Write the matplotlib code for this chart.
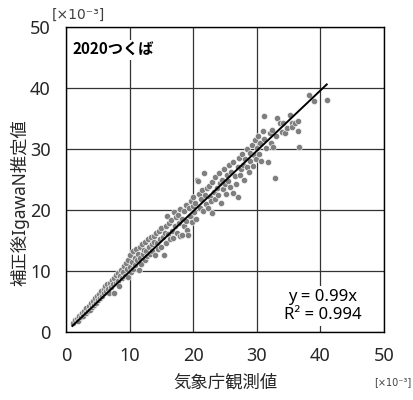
import matplotlib
matplotlib.use("Agg")
import matplotlib.pyplot as plt

plt.rcParams['font.family'] = ['Noto Sans', 'Noto Sans CJK JP', 'DejaVu Sans']

# observed (JMA) values [x10^-3]
obs = [
    1.1, 1.4, 1.7, 1.9, 2.1, 2.3, 2.5, 2.7, 2.9, 3.1, 3.2, 3.4, 3.6, 3.7, 3.9, 4.1, 4.2, 4.4, 4.6, 4.7, 4.9, 5.0,
    5.2, 5.4, 5.5, 5.7, 5.9, 6.0, 6.2, 6.3, 6.5, 6.6, 6.8, 6.9, 7.1, 7.2, 7.4, 7.5, 7.6, 7.8, 7.9, 8.1, 8.2, 8.4,
    8.5, 8.7, 8.8, 9.0, 9.1, 9.3, 9.4, 9.6, 9.7, 9.8, 10.0, 10.1, 10.2,
    10.4, 10.5, 10.6, 10.8, 10.9, 11.0, 11.2, 11.3, 11.4, 11.6, 11.7, 11.8, 12.0, 12.1, 12.2, 12.4, 12.5, 12.6,
    12.8, 12.9, 13.0, 13.2, 13.3, 13.5, 13.6, 13.8, 13.9, 14.0, 14.2, 14.3, 14.5, 14.6, 14.8, 14.9, 15.0, 15.2,
    15.4, 15.5, 15.7, 15.8, 15.9,
    16.1, 16.2, 16.4, 16.5, 16.7, 16.8, 17.0, 17.1, 17.3, 17.4, 17.6, 17.7, 17.9, 18.0, 18.2, 18.3, 18.5, 18.6,
    18.8, 18.9, 19.0, 19.2, 19.3, 19.5, 19.6, 19.8, 19.9, 20.0, 20.2, 20.3, 20.5, 20.6, 20.8, 20.9, 21.0,
    21.2, 21.4, 21.5, 21.7, 21.8, 22.0, 22.1, 22.3, 22.5, 22.6, 22.8, 23.0, 23.0, 23.2, 23.4, 23.5, 23.7, 23.9,
    24.0, 24.2, 24.3, 24.5, 24.7, 24.8, 25.0, 25.2, 25.3, 25.5, 25.6, 25.8, 26.0, 26.2, 26.3, 26.5, 26.7,
    27.0, 27.0, 27.2, 27.4, 27.5, 27.7, 27.9, 28.0, 28.2, 28.4, 28.5, 28.7, 28.9, 29.0, 29.2, 29.4, 29.5, 29.7,
    29.9, 30.0, 30.2, 30.3, 30.5, 30.7, 30.9, 31.1, 31.2, 31.4, 31.8, 32.0, 32.2, 32.4, 32.6, 32.9, 33.0,
    33.2, 33.6, 33.9, 34.1, 34.4, 34.8, 35.2, 35.5, 35.6, 36.0, 36.5, 36.5, 36.6, 38.2, 39.0, 41.0,
]
# corrected IgawaN estimates [x10^-3]
est = [
    1.4, 1.9, 2.2, 1.8, 2.6, 2.4, 3.1, 2.7, 3.5, 3.1, 3.9, 3.4, 4.2, 3.6, 4.7, 4.1, 5.1, 4.5, 5.5, 4.8, 5.9, 5.2,
    6.3, 5.6, 6.7, 5.9, 7.1, 6.4, 7.5, 6.8, 7.9, 7.0, 6.4, 8.1, 7.4, 8.6, 7.8, 6.4, 8.9, 8.0, 9.3, 8.4, 9.7, 7.6,
    9.1, 10.2, 8.8, 9.8, 10.8, 9.2, 11.3, 10.3, 9.0, 11.8, 10.6, 12.6, 9.8,
    11.4, 13.2, 10.4, 12.2, 11.0, 13.6, 11.8, 12.8, 10.2, 13.9, 12.2, 11.2, 14.4, 12.8, 13.4, 11.8, 14.8, 13.2,
    12.4, 15.2, 14.0, 12.8, 15.6, 14.4, 13.2, 15.8, 14.8, 12.6, 16.2, 14.6, 13.6, 16.6, 15.2, 14.0, 17.0, 15.6,
    12.6, 16.2, 14.6, 17.4, 19.0,
    16.0, 17.8, 15.2, 18.4, 16.6, 15.4, 19.7, 17.4, 18.8, 16.2, 19.2, 17.8, 15.8, 20.2, 15.9, 18.6, 19.8, 17.4,
    20.8, 18.2, 16.8, 15.9, 20.4, 19.0, 21.4, 18.0, 20.6, 22.2, 19.6, 21.2, 18.6, 24.9, 24.8, 22.6, 20.4,
    21.8, 23.2, 19.8, 26.1, 22.4, 21.0, 23.6, 20.4, 24.0, 22.2, 21.4, 19.5, 24.6, 23.0, 21.8, 25.4, 23.6, 22.4,
    26.0, 24.4, 21.2, 25.0, 23.4, 26.8, 24.2, 22.6, 25.8, 24.8, 27.4, 23.8, 26.2, 22.8, 27.8, 25.6, 24.2,
    22.1, 27.0, 28.6, 25.8, 26.8, 29.2, 27.4, 25.0, 28.4, 30.0, 27.0, 26.2, 29.4, 28.0, 30.6, 27.2, 29.0, 31.4,
    28.4, 30.2, 32.2, 29.2, 31.0, 28.0, 33.0, 35.4, 31.6, 30.2, 27.9, 32.6, 31.0, 33.1, 30.4, 25.2, 32.2,
    35.1, 34.3, 32.8, 34.3, 32.6, 33.4, 35.6, 34.3, 33.6, 34.3, 34.6, 33.0, 30.3, 38.9, 37.9, 38.0,
]
slope = 0.99
fit_x = [1.0, 41.0]
fit_y = [slope * v for v in fit_x]

ticks = [0, 10, 20, 30, 40, 50]

fig = plt.figure(figsize=(4.14, 4.0), dpi=100)
ax = fig.add_axes([66/414, 1-332/400, (384-66)/414, (332-27)/400])

ax.scatter(obs, est, s=20, color='#7f7f7f', edgecolors='white', linewidths=0.4, zorder=3)
ax.plot(fit_x, fit_y, color='black', lw=1.4, zorder=4)

ax.set_xlim(0, 50)
ax.set_ylim(0, 50)
ax.set_xticks(ticks)
ax.set_yticks(ticks)
ax.grid(True, color='#333333', lw=0.9, zorder=0)
ax.set_axisbelow(True)
ax.tick_params(length=0, labelsize=13, pad=11)
for lab in ax.get_xticklabels() + ax.get_yticklabels():
    lab.set_color('#262626')
for sp in ax.spines.values():
    sp.set_color('black')
    sp.set_linewidth(1.0)

ax.text(1.1, 46.2, '2020つくば', fontsize=11, fontweight='bold', ha='left', va='center',
        family=['Noto Sans CJK JP'],
        bbox=dict(facecolor='white', edgecolor='none', pad=1.5), zorder=5)
ax.text(40.4, 4.3, 'y = 0.99x\nR² = 0.994', fontsize=12, ha='center', va='center',
        multialignment='center', linespacing=1.2,
        bbox=dict(facecolor='white', edgecolor='none', pad=2), zorder=5)

fig.text(225/414, 1-383/400, '気象庁観測値', fontsize=12.5, ha='center', va='center', color='#262626')
fig.text(20/414, 1-203/400, '補正後IgawaN推定値', fontsize=12.5, ha='center', va='center',
         rotation=90, color='#262626')
fig.text(78/414, 1-15/400, '[×10⁻³]', fontsize=10, ha='center', va='center', color='#404040',
         family=['DejaVu Sans'])
fig.text(411/414, 1-382/400, '[×10⁻³]', fontsize=7, ha='right', va='center', color='#404040',
         family=['DejaVu Sans'])

fig.savefig('out.png', dpi=100)
